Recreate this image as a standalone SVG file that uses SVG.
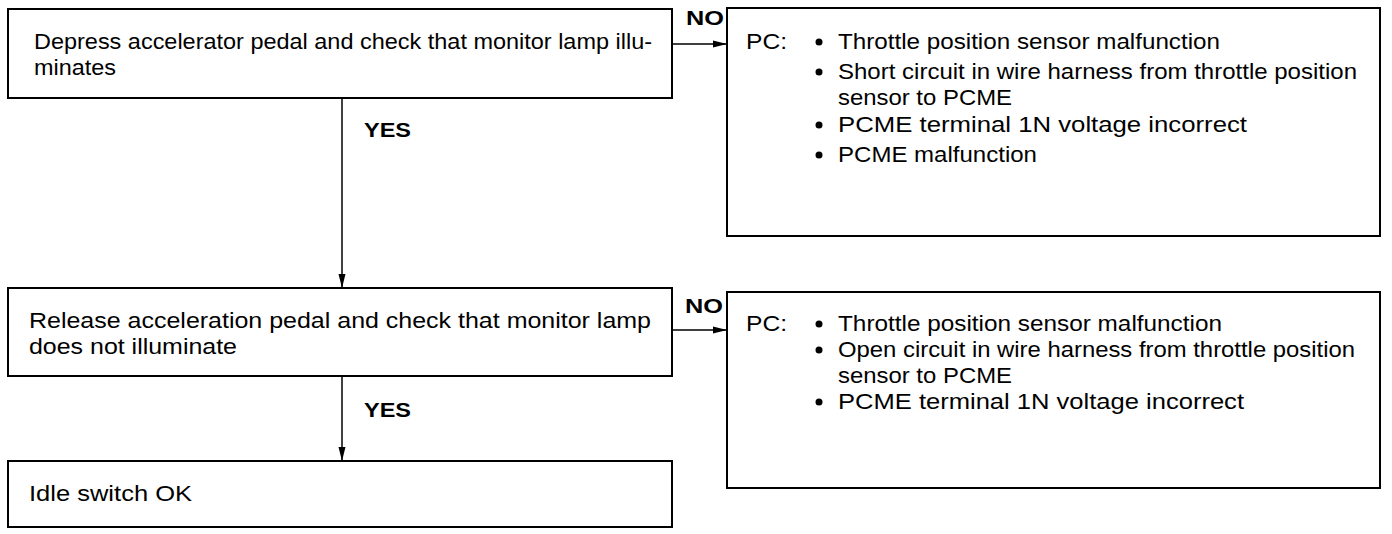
<svg xmlns="http://www.w3.org/2000/svg" width="1392" height="534" viewBox="0 0 1392 534">
<defs>
<marker id="ah" viewBox="0 0 14 8" refX="14" refY="4" markerWidth="14" markerHeight="8" markerUnits="userSpaceOnUse" orient="auto">
<path d="M0,0.5 L14,4 L0,7.5 Z" fill="#000"/>
</marker>
<style>
.box{fill:#fff;stroke:#000;stroke-width:2}
.t{font-family:"Liberation Sans",Arial,sans-serif;font-size:22px;fill:#000}
.b{font-family:"Liberation Sans",Arial,sans-serif;font-size:21px;font-weight:bold;fill:#000}
.c{stroke:#000;stroke-width:1.5;fill:none;marker-end:url(#ah)}
</style>
</defs>
<rect width="1392" height="534" fill="#fff"/>
<g id="connectors">
<line class="c" x1="673" y1="44" x2="727" y2="44"/>
<line class="c" x1="342" y1="98" x2="342" y2="288"/>
<line class="c" x1="673" y1="330" x2="727" y2="330"/>
<line class="c" x1="342" y1="376" x2="342" y2="461"/>
<text class="b" x="686" y="25" textLength="38" lengthAdjust="spacingAndGlyphs">NO</text>
<text class="b" x="364" y="137" textLength="47" lengthAdjust="spacingAndGlyphs">YES</text>
<text class="b" x="685" y="313" textLength="38" lengthAdjust="spacingAndGlyphs">NO</text>
<text class="b" x="364" y="417" textLength="47" lengthAdjust="spacingAndGlyphs">YES</text>
</g>
<g id="n1">
<rect class="box" x="8" y="9" width="664" height="89"/>
<text class="t" x="34" y="49" textLength="618" lengthAdjust="spacingAndGlyphs">Depress accelerator pedal and check that monitor lamp illu-</text>
<text class="t" x="34" y="75" textLength="82" lengthAdjust="spacingAndGlyphs">minates</text>
</g>
<g id="n2">
<rect class="box" x="727" y="8" width="653" height="228"/>
<text class="t" x="746" y="49" textLength="41" lengthAdjust="spacingAndGlyphs">PC:</text>
<circle cx="819" cy="42" r="3.5"/>
<text class="t" x="838" y="49" textLength="382" lengthAdjust="spacingAndGlyphs">Throttle position sensor malfunction</text>
<circle cx="819" cy="72" r="3.5"/>
<text class="t" x="838" y="79" textLength="519" lengthAdjust="spacingAndGlyphs">Short circuit in wire harness from throttle position</text>
<text class="t" x="838" y="105" textLength="174" lengthAdjust="spacingAndGlyphs">sensor to PCME</text>
<circle cx="819" cy="125" r="3.5"/>
<text class="t" x="838" y="132" textLength="409" lengthAdjust="spacingAndGlyphs">PCME terminal 1N voltage incorrect</text>
<circle cx="819" cy="155" r="3.5"/>
<text class="t" x="838" y="162" textLength="199" lengthAdjust="spacingAndGlyphs">PCME malfunction</text>
</g>
<g id="n3">
<rect class="box" x="8" y="288" width="664" height="88"/>
<text class="t" x="29" y="328" textLength="622" lengthAdjust="spacingAndGlyphs">Release acceleration pedal and check that monitor lamp</text>
<text class="t" x="29" y="354" textLength="208" lengthAdjust="spacingAndGlyphs">does not illuminate</text>
</g>
<g id="n4">
<rect class="box" x="727" y="292" width="653" height="196"/>
<text class="t" x="746" y="331" textLength="41" lengthAdjust="spacingAndGlyphs">PC:</text>
<circle cx="819" cy="324" r="3.5"/>
<text class="t" x="838" y="331" textLength="384" lengthAdjust="spacingAndGlyphs">Throttle position sensor malfunction</text>
<circle cx="819" cy="350" r="3.5"/>
<text class="t" x="838" y="357" textLength="517" lengthAdjust="spacingAndGlyphs">Open circuit in wire harness from throttle position</text>
<text class="t" x="838" y="383" textLength="174" lengthAdjust="spacingAndGlyphs">sensor to PCME</text>
<circle cx="819" cy="402" r="3.5"/>
<text class="t" x="838" y="409" textLength="406" lengthAdjust="spacingAndGlyphs">PCME terminal 1N voltage incorrect</text>
</g>
<g id="n5">
<rect class="box" x="8" y="461" width="664" height="66"/>
<text class="t" x="29" y="501" textLength="163" lengthAdjust="spacingAndGlyphs">Idle switch OK</text>
</g>
</svg>
